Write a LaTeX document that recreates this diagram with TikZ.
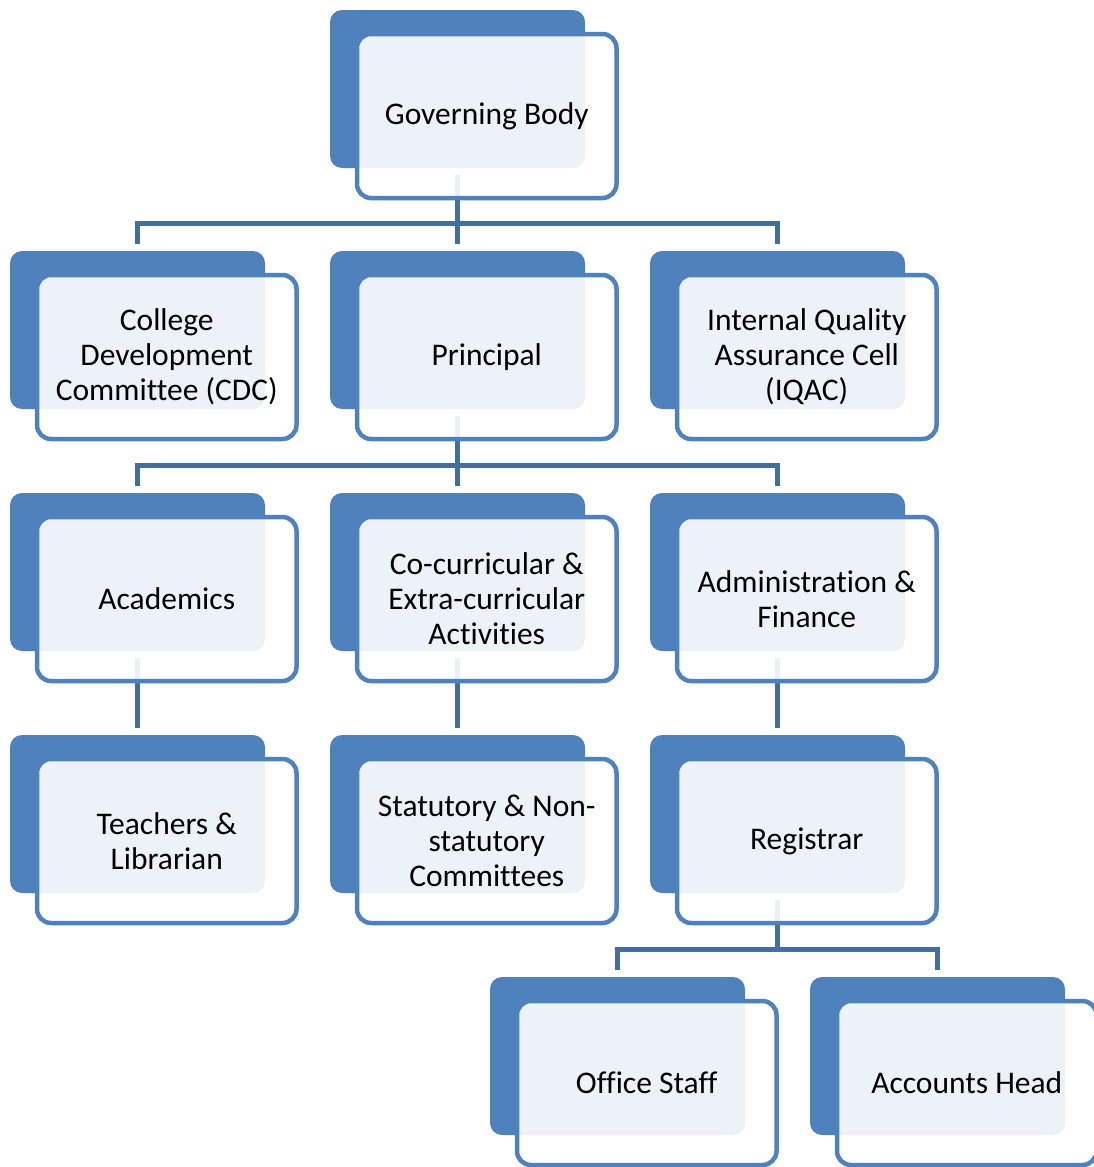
\documentclass[tikz,border=0pt]{standalone}
\usepackage{fontspec}
\setmainfont{Carlito}[Ligatures=NoCommon]
\definecolor{boxblue}{RGB}{79,129,189}
\definecolor{linkblue}{RGB}{65,111,160}
\pgfdeclarelayer{bg}
\pgfsetlayers{bg,main}
\tikzset{
  backbox/.style={fill=boxblue, rounded corners=12pt, minimum width=255pt, minimum height=158pt,
    inner sep=0pt, outer sep=0pt, anchor=north west},
  frontbox/.style={draw=boxblue, line width=4.5pt, fill=white, fill opacity=0.9, text opacity=1,
    rounded corners=14pt, minimum width=259.5pt, minimum height=164pt, inner sep=0pt, outer sep=0pt,
    anchor=north west, align=center, font=\fontsize{31.5}{35}\selectfont},
  conn/.style={draw=linkblue, line width=4.5pt}
}
\newcommand\orgbox[4]{%
  \node[backbox] (#1B) at (#2,#3) {};
  \node[frontbox] (#1) at (#2+27,#3+24) {#4};}
\begin{document}
\begin{tikzpicture}[x=1pt,y=-1pt]
\useasboundingbox (0,0) rectangle (1094,1167);
\orgbox{gb}{330}{10}{Governing Body}
\orgbox{cdc}{10}{251}{College\\Development\\Committee (CDC)}
\orgbox{pr}{330}{251}{Principal}
\orgbox{iq}{650}{251}{Internal Quality\\Assurance Cell\\(IQAC)}
\orgbox{ac}{10}{493}{Academics}
\orgbox{co}{330}{493}{Co-curricular \&\\Extra-curricular\\Activities}
\orgbox{ad}{650}{493}{Administration \&\\Finance}
\orgbox{te}{10}{735}{Teachers \&\\Librarian}
\orgbox{st}{330}{735}{Statutory \& Non-\\statutory\\Committees}
\orgbox{re}{650}{735}{Registrar}
\orgbox{os}{490}{977}{Office Staff}
\orgbox{ah}{810}{977}{Accounts Head}
\begin{pgfonlayer}{bg}
  \draw[conn] ([yshift=-7pt]gbB.south) -- ([yshift=7pt]prB.north);
  \draw[conn] ([yshift=7pt]cdcB.north) |- ([yshift=27.5pt]prB.north) -| ([yshift=7pt]iqB.north);
  \draw[conn] ([yshift=-7pt]prB.south) -- ([yshift=7pt]coB.north);
  \draw[conn] ([yshift=7pt]acB.north) |- ([yshift=27.5pt]coB.north) -| ([yshift=7pt]adB.north);
  \draw[conn] ([yshift=-7pt]acB.south) -- ([yshift=7pt]teB.north);
  \draw[conn] ([yshift=-7pt]coB.south) -- ([yshift=7pt]stB.north);
  \draw[conn] ([yshift=-7pt]adB.south) -- ([yshift=7pt]reB.north);
  \draw[conn] ([yshift=-7pt]reB.south) |- ([yshift=27.5pt]osB.north);
  \draw[conn] ([yshift=7pt]osB.north) |- ([yshift=27.5pt]ahB.north) -- ([yshift=7pt]ahB.north);
\end{pgfonlayer}
\end{tikzpicture}
\end{document}
